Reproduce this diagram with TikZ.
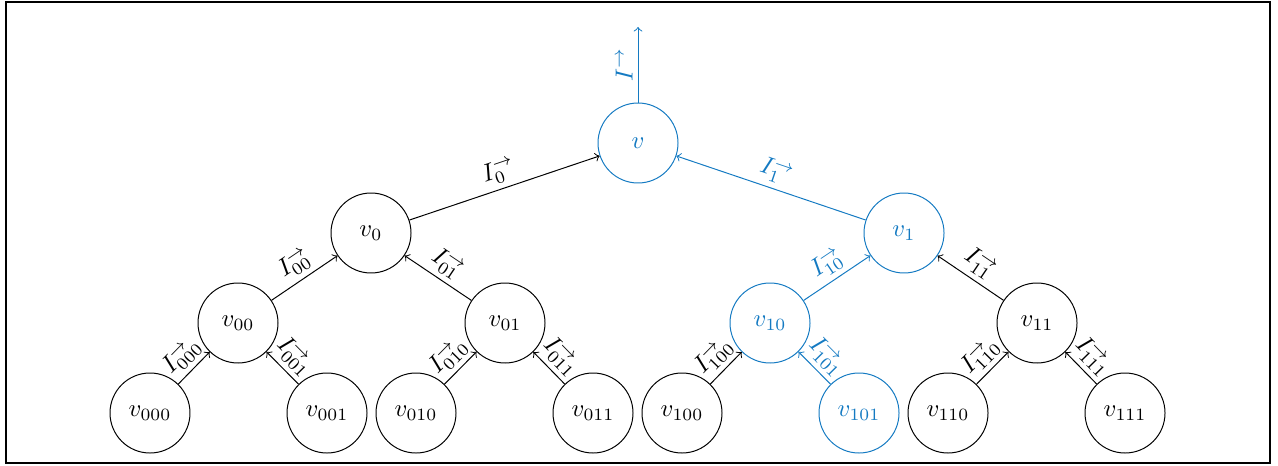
\documentclass[tikz,border=0pt]{standalone}
\usepackage{tikz}
\definecolor{hl}{RGB}{20,122,194}
\newcommand{\ilab}[1]{$I^{\rightarrow}_{#1}$}
\begin{document}
\begin{tikzpicture}[x=0.405pt,y=-0.405pt,
  vtx/.style={circle,draw,minimum size=32.4pt,inner sep=0pt},
  hlv/.style={vtx,draw=hl,text=hl},
  edge/.style={->},
  lab/.style={midway,above,sloped,inner sep=2pt}]
\useasboundingbox (0,0) rectangle (1278,465);
\draw[line width=1pt] (6,2) rectangle (1270,463);
\node[hlv] (v) at (638,143) {$v$};
\node[vtx] (v0) at (371,233) {$v_0$};
\node[hlv] (v1) at (904,233) {$v_1$};
\node[vtx] (v00) at (238,323) {$v_{00}$};
\node[vtx] (v01) at (505,323) {$v_{01}$};
\node[hlv] (v10) at (770,323) {$v_{10}$};
\node[vtx] (v11) at (1037,323) {$v_{11}$};
\node[vtx] (v000) at (150,413) {$v_{000}$};
\node[vtx] (v001) at (327,413) {$v_{001}$};
\node[vtx] (v010) at (416,413) {$v_{010}$};
\node[vtx] (v011) at (593,413) {$v_{011}$};
\node[vtx] (v100) at (682,413) {$v_{100}$};
\node[hlv] (v101) at (859,413) {$v_{101}$};
\node[vtx] (v110) at (948,413) {$v_{110}$};
\node[vtx] (v111) at (1125,413) {$v_{111}$};
\coordinate (top) at (638,27);
\draw[edge,hl] (v) -- node[lab]{$I^{\rightarrow}$} (top);
\draw[edge] (v0) -- node[lab]{\ilab{0}} (v);
\draw[edge,hl] (v1) -- node[lab]{\ilab{1}} (v);
\draw[edge] (v00) -- node[lab]{\ilab{00}} (v0);
\draw[edge] (v01) -- node[lab]{\ilab{01}} (v0);
\draw[edge,hl] (v10) -- node[lab]{\ilab{10}} (v1);
\draw[edge] (v11) -- node[lab]{\ilab{11}} (v1);
\draw[edge] (v000) -- node[lab]{\ilab{000}} (v00);
\draw[edge] (v001) -- node[lab]{\ilab{001}} (v00);
\draw[edge] (v010) -- node[lab]{\ilab{010}} (v01);
\draw[edge] (v011) -- node[lab]{\ilab{011}} (v01);
\draw[edge] (v100) -- node[lab]{\ilab{100}} (v10);
\draw[edge,hl] (v101) -- node[lab]{\ilab{101}} (v10);
\draw[edge] (v110) -- node[lab]{\ilab{110}} (v11);
\draw[edge] (v111) -- node[lab]{\ilab{111}} (v11);
\end{tikzpicture}
\end{document}
